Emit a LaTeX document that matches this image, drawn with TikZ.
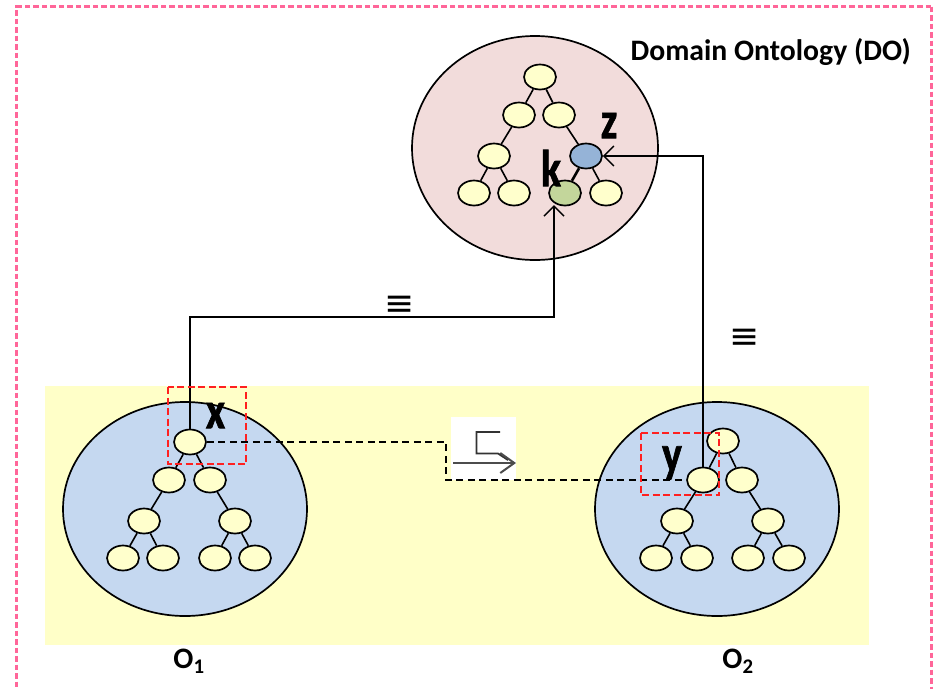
\documentclass[tikz,border=0pt]{standalone}
\usepackage{fontspec}
\usepackage{graphicx}
\setmainfont{Carlito}
\newfontfamily\symfont{DejaVu Sans}
\newfontfamily\heavyfont[BoldFeatures={FakeBold=1.5}]{Carlito}
\usetikzlibrary{shapes.geometric,arrows.meta}
\definecolor{leaf}{HTML}{FFFFCC}
\definecolor{panel}{HTML}{FFFFC8}
\definecolor{blob}{HTML}{C5D8F0}
\definecolor{dom}{HTML}{F2DCDB}
\definecolor{zfill}{HTML}{95B3D7}
\definecolor{kfill}{HTML}{C3D69B}
\definecolor{frame}{HTML}{FF6699}
\definecolor{redbox}{HTML}{FF2020}
\newcommand{\bigletter}[1]{\scalebox{0.8}[1]{\heavyfont\bfseries\fontsize{52}{52}\selectfont #1}}
\tikzset{
  x=1pt,y=-1pt,
  treenode/.style={draw=black,line width=1.7pt,ellipse,fill=leaf,minimum width=32pt,minimum height=25pt,inner sep=0pt},
  bignode/.style={draw=black,line width=1.7pt,ellipse,inner sep=0pt},
  edge/.style={line width=1.6pt},
  conn/.style={line width=1.5pt},
  dashconn/.style={line width=1.5pt,dash pattern=on 7pt off 4.5pt},
  redframe/.style={draw=redbox,line width=2pt,dash pattern=on 7pt off 3.5pt},
  framestyle/.style={draw=frame,line width=3pt,dash pattern=on 5.5pt off 3pt},
  lab/.style={font=\bfseries\fontsize{29.7}{30}\selectfont,inner sep=0pt},
  big/.style={inner sep=0pt},
  eqv/.style={font=\symfont\fontsize{36}{36}\selectfont,inner sep=0pt},
  arr/.style={-{Straight Barb[length=10pt,width=20pt,line width=1.5pt]}},
}
\begin{document}
\begin{tikzpicture}
\useasboundingbox (0,0) rectangle (935,689);
\fill[white] (0,0) rectangle (935,689);
\draw[framestyle] (931,6.5) -- (16.5,6.5) -- (16.5,689);
\draw[framestyle] (931,6.5) -- (931,689);
\fill[panel] (45,386) rectangle (869,645);
% big ellipses
\node[bignode,fill=dom,minimum width=246pt,minimum height=224pt] (D) at (535,148) {};
\node[bignode,fill=blob,minimum width=244pt,minimum height=214pt] (A) at (185,509) {};
\node[bignode,fill=blob,minimum width=244pt,minimum height=214pt] (B) at (717,509) {};
% DO tree
\node[treenode] (d1) at (540,77) {};
\node[treenode] (d2) at (519,115) {};
\node[treenode] (d3) at (559,115) {};
\node[treenode] (d4) at (494,156) {};
\node[treenode,fill=zfill] (d5) at (586,156) {};
\node[treenode] (d6) at (474,193) {};
\node[treenode] (d7) at (514,193) {};
\node[treenode,fill=kfill] (d8) at (565,193) {};
\node[treenode] (d9) at (606,193) {};
\draw[edge] (d1)--(d2); \draw[edge] (d1)--(d3); \draw[edge] (d2)--(d4); \draw[edge] (d3)--(d5);
\draw[edge] (d4)--(d6); \draw[edge] (d4)--(d7); \draw[edge] (d5)--(d9);
\draw[line width=2.6pt] (d5)--(d8);
% O1 tree
\node[treenode] (a1) at (190,442) {};
\node[treenode] (a2) at (169,480) {};
\node[treenode] (a3) at (210,480) {};
\node[treenode] (a4) at (144,521) {};
\node[treenode] (a5) at (235,521) {};
\node[treenode] (a6) at (123,558) {};
\node[treenode] (a7) at (163,558) {};
\node[treenode] (a8) at (215,558) {};
\node[treenode] (a9) at (255,558) {};
\draw[edge] (a1)--(a2); \draw[edge] (a1)--(a3); \draw[edge] (a2)--(a4); \draw[edge] (a3)--(a5);
\draw[edge] (a4)--(a6); \draw[edge] (a4)--(a7); \draw[edge] (a5)--(a8); \draw[edge] (a5)--(a9);
% O2 tree
\node[treenode] (b1) at (723,441) {};
\node[treenode] (b2) at (703,480) {};
\node[treenode] (b3) at (742,480) {};
\node[treenode] (b4) at (677,521) {};
\node[treenode] (b5) at (768,521) {};
\node[treenode] (b6) at (656,558) {};
\node[treenode] (b7) at (697,558) {};
\node[treenode] (b8) at (748,558) {};
\node[treenode] (b9) at (789,558) {};
\draw[edge] (b1)--(b2); \draw[edge] (b1)--(b3); \draw[edge] (b2)--(b4); \draw[edge] (b3)--(b5);
\draw[edge] (b4)--(b6); \draw[edge] (b4)--(b7); \draw[edge] (b5)--(b8); \draw[edge] (b5)--(b9);
% connectors
\coordinate (kin) at (554,205);
\coordinate (bend) at (a1.north |- 0,317);
\draw[conn,arr] (a1.north) -- (bend) -| (kin);
\draw[conn,arr] (b2.north) -- (b2.north |- d5.east) -- (d5.east);
\coordinate (m1) at (446,442);
\coordinate (m2) at (446,480);
% symbol tile
\node[fill=white,minimum width=65pt,minimum height=63pt,inner sep=0pt] (tile) at (483.5,448.5) {};
\draw[dashconn] (a1.east) -- (m1) -- (m2) -- (b2.west);
\draw[line width=1.8pt,black!80] (500,432) -- (476.5,432) -- (476.5,453.5) -- (498,453.5) -- (508,460);
\draw[line width=2pt,black!70,-{Straight Barb[length=14pt,width=20pt,line width=2pt]}] (453,463) -- (516,463);
% red frames
\draw[redframe] (168,387) rectangle (246,464);
\draw[redframe] (641,433) rectangle (719,495);
% labels
\node[lab,anchor=east] (t1) at (911,52) {Domain Ontology (DO)};
\node[big] (x) at (215.5,415.5) {\bigletter{x}};
\node[big] (y) at (672,463) {\bigletter{y}};
\node[big] (z) at (609,125.5) {\bigletter{z}};
\node[big] (k) at (551,168) {\bigletter{k}};
\node[lab] (o1) at (189,661) {O\textsubscript{1}};
\node[lab] (o2) at (738,661) {O\textsubscript{2}};
\node[eqv] (e1) at (400,306) {≡};
\node[eqv] (e2) at (745,339) {≡};
\end{tikzpicture}
\end{document}
